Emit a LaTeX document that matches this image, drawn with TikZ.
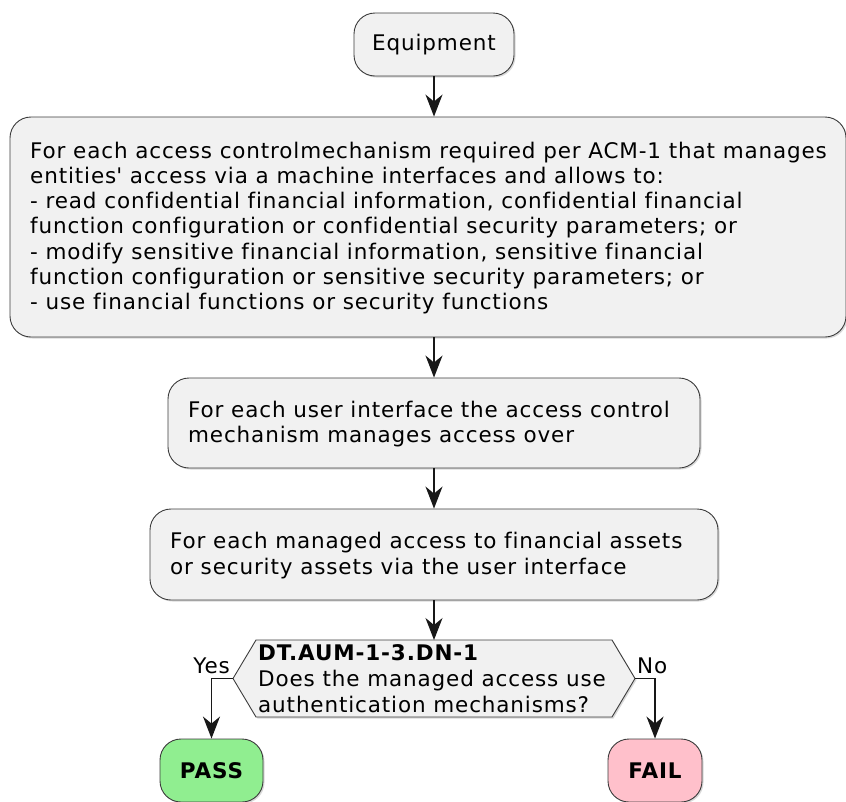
\documentclass[tikz,border=0pt]{standalone}
\usepackage{fontspec}
\setmainfont{DejaVu Sans}[LetterSpace=4,Ligatures=NoCommon]
\usetikzlibrary{arrows.meta,shadows}
\definecolor{boxfill}{HTML}{F1F1F1}
\definecolor{linecol}{HTML}{181818}
\definecolor{edgecol}{HTML}{3C3C3C}
\definecolor{passfill}{HTML}{90EE90}
\definecolor{failfill}{HTML}{FFC0CB}
\begin{document}
\begin{tikzpicture}[x=1pt,y=-1pt,
  font=\fontsize{21.5}{25.3}\selectfont,
  softshadow/.style={drop shadow={shadow xshift=1.5pt,shadow yshift=-1.5pt,opacity=0.25,fill=black!60}},
  actbox/.style={draw=edgecol, line width=0.9pt, fill=boxfill, rounded corners=21pt,
    inner sep=0pt, softshadow},
  txt/.style={anchor=west, align=left, inner sep=0pt},
  lbl/.style={inner sep=0pt},
  flow/.style={draw=linecol, line width=1.4pt,
    -{Stealth[length=22pt,width=17pt,inset=7pt]}},
]
\useasboundingbox (0,0) rectangle (846,801);
\clip (0,0) rectangle (846,801);

% start
\node[actbox, minimum width=160pt, minimum height=63pt] (equip) at (434,44.5) {Equipment};

% activity boxes
\node[actbox, minimum width=836pt, minimum height=220pt] (acm) at (428,227) {};
\node[txt] (acmtext) at (30,228) {For each access controlmechanism required per ACM-1 that manages\\
entities\textquotesingle\ access via a machine interfaces and allows to:\\
- read confidential financial information, confidential financial\\
function configuration or confidential security parameters; or\\
- modify sensitive financial information, sensitive financial\\
function configuration or sensitive security parameters; or\\
- use financial functions or security functions};

\node[actbox, minimum width=532pt, minimum height=90pt] (ui) at (434,423) {};
\node[txt] (uitext) at (188,424) {For each user interface the access control\\
mechanism manages access over};

\node[actbox, minimum width=568pt, minimum height=91pt] (assets) at (434,554.5) {};
\node[txt] (assetstext) at (170,555.5) {For each managed access to financial assets\\
or security assets via the user interface};

% decision
\draw[draw=edgecol, line width=0.9pt, fill=boxfill, softshadow]
  (233,678.5) coordinate (dl) -- (256,640) -- (434,640) coordinate (dtop) -- (612,640)
  -- (635,678.5) coordinate (dr) -- (612,717) -- (256,717) -- cycle;
\node[txt, font=\fontsize{21.5}{26}\selectfont] (dectext) at (258,678.5)
  {\textbf{DT.AUM-1-3.DN-1}\\Does the managed access use\\authentication mechanisms?};

% outcomes
\node[actbox, fill=passfill, minimum width=103pt, minimum height=63pt, font=\fontsize{21.5}{25.3}\selectfont\bfseries]
  (pass) at (211.5,770.5) {PASS};
\node[actbox, fill=failfill, minimum width=94pt, minimum height=63pt, font=\fontsize{21.5}{25.3}\selectfont\bfseries]
  (fail) at (655,770.5) {FAIL};

% connectors
\draw[flow] (equip.south) -- (equip.south |- acm.north);
\draw[flow] (ui.north |- acm.south) -- (ui.north);
\draw[flow] (ui.south) -- (assets.north);
\draw[flow] (assets.south) -- (dtop);
\draw[flow] (dl) -| (pass.north);
\draw[flow] (dr) -| (fail.north);

% branch labels
\node[lbl, anchor=base east] (yes) at (230,673) {Yes};
\node[lbl, anchor=base west] (no) at (637,673) {No};
\end{tikzpicture}
\end{document}
